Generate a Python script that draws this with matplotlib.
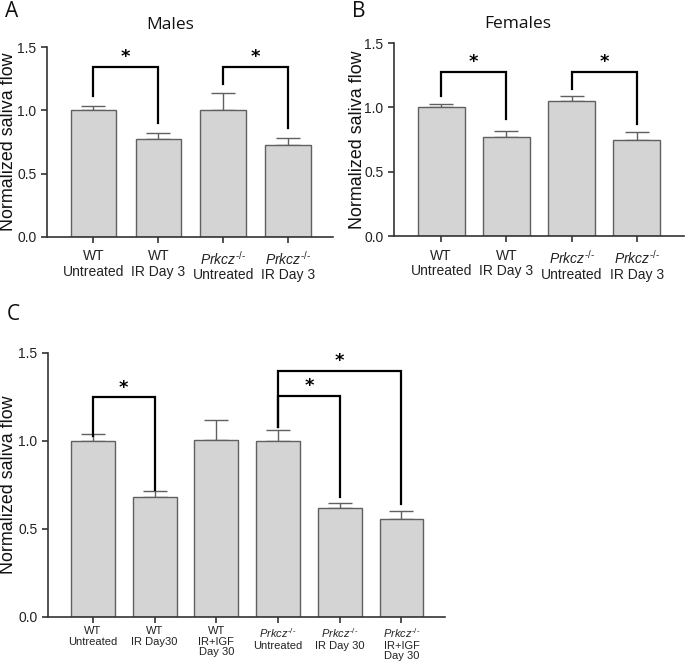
import matplotlib
matplotlib.use("Agg")
import matplotlib.pyplot as plt

plt.rcParams['font.family'] = ['Liberation Sans', 'DejaVu Sans']
plt.rcParams['mathtext.fontset'] = 'custom'
plt.rcParams['mathtext.it'] = 'Liberation Sans:italic'
plt.rcParams['mathtext.rm'] = 'Liberation Sans'

KO = "$\\mathit{Prkcz}^{\\mathit{\u2010/\u2010}}$"

# Panel A (Males)
labels_a = ["WT\nUntreated", "WT\nIR Day 3", KO + "\nUntreated", KO + "\nIR Day 3"]
means_a = [1.0, 0.775, 1.0, 0.725]
err_a = [0.035, 0.045, 0.135, 0.06]
brackets_a = [(0, 1, 1.345, 1.11, 0.90), (2, 3, 1.345, 1.21, 0.86)]

# Panel B (Females)
labels_b = ["WT\nUntreated", "WT\nIR Day 3", KO + "\nUntreated", KO + "\nIR Day 3"]
means_b = [1.0, 0.77, 1.05, 0.745]
err_b = [0.025, 0.05, 0.038, 0.065]
brackets_b = [(0, 1, 1.275, 1.09, 0.91), (2, 3, 1.275, 1.14, 0.87)]

# Panel C
labels_c = ["WT\nUntreated", "WT\nIR Day30", "WT\nIR+IGF\nDay 30",
            KO + "\nUntreated", KO + "\nIR Day 30", KO + "\nIR+IGF\nDay 30"]
means_c = [1.0, 0.68, 1.003, 1.0, 0.617, 0.557]
err_c = [0.037, 0.032, 0.113, 0.062, 0.031, 0.042]
brackets_c = [(0, 1, 1.247, 1.03, 0.72), (3, 4, 1.254, 1.08, 0.68), (3, 5, 1.396, 1.08, 0.64)]

yticks = [0.0, 0.5, 1.0, 1.5]

fig = plt.figure(figsize=(6.85, 6.62), dpi=100)

bar_face = '#d4d4d4'
bar_edge = '#606060'


def panel(rect, labels, means, errs, brackets, xlim, width, tick_fs, label_x,
          title=None, title_x=0.5, title_pad=10, letter=None, letter_pos=None,
          tick_pad=5, linespacing=1.1):
    ax = fig.add_axes(rect)
    x = list(range(len(means)))
    ax.bar(x, means, width=width, color=bar_face, edgecolor=bar_edge, linewidth=1.0, zorder=2)
    ax.errorbar(x, means, yerr=[[0] * len(errs), errs], fmt='none', ecolor=bar_edge,
                elinewidth=1.0, capsize=8.5, capthick=1.0, zorder=1)
    for (i, j, top, yl, yr) in brackets:
        ax.plot([i, i, j, j], [yl, top, top, yr], color='black', lw=1.6,
                solid_joinstyle='miter', zorder=3)
        ax.annotate('*', xy=((i + j) / 2, top), xytext=(0, 7), textcoords='offset points',
                    ha='center', va='center', fontsize=13, fontweight='bold',
                    family='DejaVu Sans')
    ax.set_xlim(*xlim)
    ax.set_ylim(0, 1.5)
    ax.set_yticks(yticks)
    ax.set_yticklabels([f"{v:.1f}" for v in yticks], fontsize=10, color='#222222')
    ax.set_xticks(x)
    ax.set_xticklabels(labels, fontsize=tick_fs, color='#222222', linespacing=linespacing)
    for s in ['top', 'right']:
        ax.spines[s].set_visible(False)
    for s in ['left', 'bottom']:
        ax.spines[s].set_linewidth(1.2)
        ax.spines[s].set_color('#333333')
    ax.tick_params(axis='both', direction='out', length=4, width=1.2, color='#333333')
    ax.tick_params(axis='x', pad=tick_pad)
    ax.set_ylabel("Normalized saliva flow", fontsize=12.9, family='Liberation Sans',
                  color='#111111', va='center')
    ax.yaxis.set_label_coords(label_x, 0.5)
    if title:
        ax.set_title(title, fontsize=12.5, family='Open Sans', pad=title_pad,
                     color='#111111', x=title_x)
    if letter:
        fig.text(letter_pos[0], letter_pos[1], letter, fontsize=15, family='Open Sans',
                 color='#111111', ha='left', va='top')
    return ax


panel([0.0686, 0.642, 0.4174, 0.287], labels_a, means_a, err_a, brackets_a,
      (-0.715, 3.69), 0.70, 10, label_x=-0.135, title="Males", title_x=0.43,
      title_pad=13, letter="A", letter_pos=(0.008, 0.999))
panel([0.575, 0.6435, 0.424, 0.2915], labels_b, means_b, err_b, brackets_b,
      (-0.727, 3.73), 0.72, 10, label_x=-0.126, title="Females", title_x=0.426,
      title_pad=11, letter="B", letter_pos=(0.514, 0.999))
panel([0.070, 0.0684, 0.580, 0.3986], labels_c, means_c, err_c, brackets_c,
      (-0.73, 5.71), 0.71, 8, label_x=-0.099, letter="C", letter_pos=(0.010, 0.541),
      tick_pad=3, linespacing=1.05)

fig.savefig("out.png", dpi=100)
